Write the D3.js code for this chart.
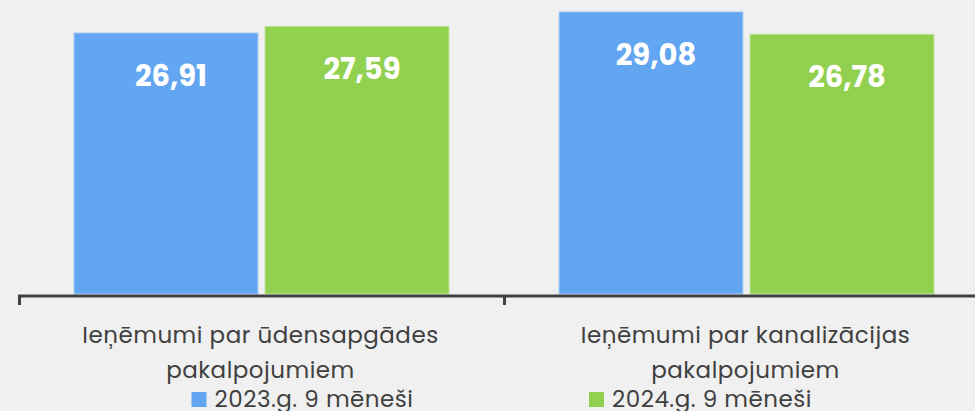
<!DOCTYPE html>
<html><head><meta charset="utf-8">
<script src="https://cdn.jsdelivr.net/npm/d3@7"></script>
<style>
html,body{margin:0;padding:0;background:#f0f0f0;}
svg{display:block;}
</style></head>
<body>
<svg id="c" width="975" height="411"></svg>
<script>
const categories = [["Ieņēmumi par ūdensapgādes","pakalpojumiem"],["Ieņēmumi par kanalizācijas","pakalpojumiem"]];
const categoryKeys = ["udens","kanal"];
const seriesNames = ["2023.g. 9 mēneši","2024.g. 9 mēneši"];
const values2023 = [26.91, 29.08];
const values2024 = [27.59, 26.78];
const colors = ["#62a6f2","#92d150"];

const svg = d3.select("#c");
const font = "Poppins, Inter, 'Open Sans', sans-serif";

const x = d3.scaleBand().domain(categoryKeys).range([18, 988]).paddingInner(0).paddingOuter(0);
const y = d3.scaleLinear().domain([0, 30]).range([294, 3]);
const inner = d3.scaleBand().domain([0,1]).range([56, x.bandwidth()-54]).paddingInner(0.037);

const series = [values2023, values2024];
const g = svg.append("g");
series.forEach((vals, si) => {
  g.selectAll(null).data(vals).enter().append("rect")
    .attr("x", (d,i) => x(categoryKeys[i]) + inner(si))
    .attr("width", inner.bandwidth())
    .attr("y", d => y(d))
    .attr("height", d => y(0) - y(d))
    .attr("fill", colors[si])
    .attr("stroke", si===0 ? "#a9cdf6" : "#bfe39a")
    .attr("stroke-width", 1);
  g.selectAll(null).data(vals).enter().append("text")
    .attr("x", (d,i) => x(categoryKeys[i]) + inner(si) + inner.bandwidth()/2 + 5)
    .attr("y", d => y(d) + 53)
    .attr("text-anchor","middle")
    .attr("fill","#fff")
    .attr("font-family", font)
    .attr("font-weight","bold")
    .attr("font-size", 29)
    .text(d => d.toFixed(2).replace(".", ","));
});

// axis
const axis = d3.axisBottom(x).tickSize(9).tickFormat("");
const ax = svg.append("g").attr("transform","translate(0,296)").call(axis);
ax.select(".domain").attr("stroke","#404040").attr("stroke-width",3).attr("d","M18,0H988");
ax.selectAll(".tick").attr("transform", d => `translate(${x(d)+1.5},0)`);
ax.selectAll(".tick line").attr("stroke","#404040").attr("stroke-width",3);
// category labels
categoryKeys.forEach((k, i) => {
  const t = svg.append("text")
    .attr("text-anchor","middle")
    .attr("font-family", font)
    .attr("font-size", 23)
    .attr("letter-spacing", 0.5)
    .attr("fill","#404040");
  categories[i].forEach((line, li) => {
    t.append("tspan").attr("x", x(k) + x.bandwidth()/2).attr("y", 343 + li*35).text(line);
  });
});

// legend
const legX = [191.5, 589];
seriesNames.forEach((n, i) => {
  svg.append("rect").attr("x", legX[i]).attr("y", 392).attr("width", 15).attr("height", 15).attr("fill", colors[i]);
  svg.append("text").attr("x", legX[i] + 23).attr("y", 407)
    .attr("font-family", font).attr("font-size", 23).attr("letter-spacing", 0.5)
    .attr("fill","#404040").text(n);
});
</script>
</body></html>
